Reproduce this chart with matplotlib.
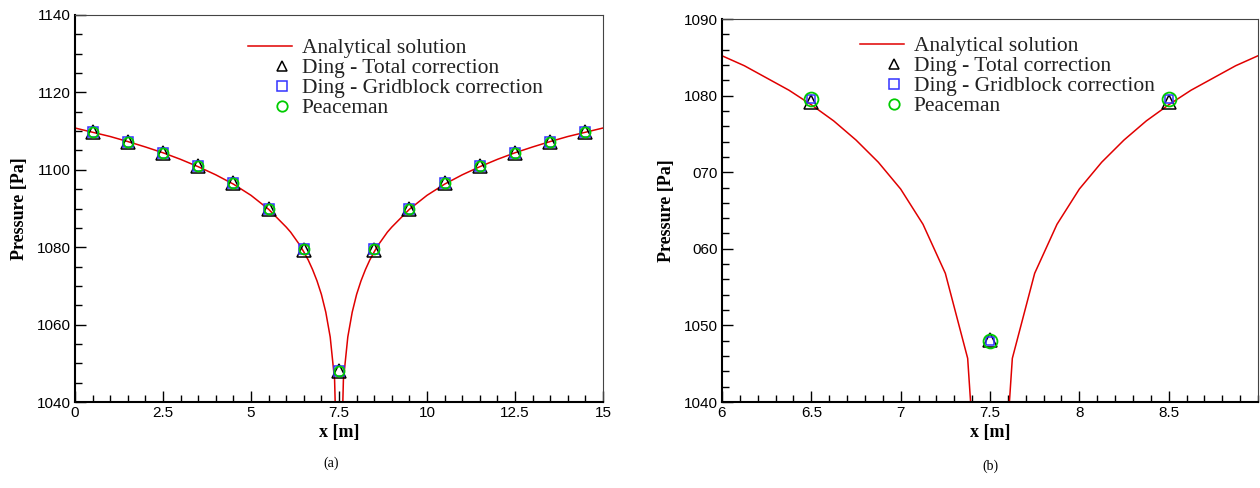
import matplotlib
matplotlib.use("Agg")
import matplotlib.pyplot as plt
from matplotlib.ticker import MultipleLocator, FixedLocator

# analytical solution (two branches either side of the well)
ana_x_left = [0, 0.5, 1, 1.5, 2, 2.5, 3, 3.5, 4, 4.5, 5, 5.5, 6, 6.125, 6.25, 6.375,
              6.5, 6.625, 6.75, 6.875, 7, 7.125, 7.25, 7.375, 7.42]
ana_p_left = [1110.8, 1109.7, 1108.6, 1107.3, 1105.9, 1104.4, 1102.7, 1100.8, 1098.7,
              1096.3, 1093.4, 1089.8, 1085.2, 1083.9, 1082.3, 1080.7, 1078.8, 1076.7,
              1074.2, 1071.3, 1067.8, 1063.2, 1056.8, 1045.7, 1030.0]
ana_x_right = [7.58, 7.625, 7.75, 7.875, 8, 8.125, 8.25, 8.375, 8.5, 8.625, 8.75, 8.875,
               9, 9.5, 10, 10.5, 11, 11.5, 12, 12.5, 13, 13.5, 14, 14.5, 15]
ana_p_right = [1030.0, 1045.7, 1056.8, 1063.2, 1067.8, 1071.3, 1074.2, 1076.7, 1078.8,
               1080.7, 1082.3, 1083.9, 1085.2, 1089.8, 1093.4, 1096.3, 1098.7, 1100.8,
               1102.7, 1104.4, 1105.9, 1107.3, 1108.6, 1109.7, 1110.8]

# gridblock centres and numerical results
cell_x = [0.5, 1.5, 2.5, 3.5, 4.5, 5.5, 6.5, 7.5, 8.5, 9.5, 10.5, 11.5, 12.5, 13.5, 14.5]
ding_total = [1109.7, 1107.2, 1104.3, 1100.9, 1096.5, 1089.8, 1079.2, 1048.1,
              1079.2, 1089.8, 1096.5, 1100.9, 1104.3, 1107.2, 1109.7]
ding_grid = [1109.8, 1107.3, 1104.4, 1101.0, 1096.7, 1090.0, 1079.6, 1048.0,
             1079.6, 1090.0, 1096.7, 1101.0, 1104.4, 1107.3, 1109.8]
peaceman = [1109.8, 1107.3, 1104.4, 1101.0, 1096.7, 1090.0, 1079.6, 1048.0,
            1079.6, 1090.0, 1096.7, 1101.0, 1104.4, 1107.3, 1109.8]

tick_font = "Liberation Sans"
serif = "Liberation Serif"

fig = plt.figure(figsize=(12.6, 4.88), dpi=100)
ax1 = fig.add_axes([75 / 1260, 86 / 488, 528 / 1260, 387 / 488])
ax2 = fig.add_axes([722 / 1260, 86 / 488, 536 / 1260, 383 / 488])


def draw(ax, ms_tri, ms_sq, ms_circ):
    ax.plot(ana_x_left, ana_p_left, color="#e00000", lw=1.1, label="Analytical solution")
    ax.plot(ana_x_right, ana_p_right, color="#e00000", lw=1.1)
    ax.plot(cell_x, ding_total, ls="none", marker="^", ms=ms_tri, mfc="none",
            mec="black", mew=1.1, label="Ding - Total correction")
    ax.plot(cell_x, ding_grid, ls="none", marker="s", ms=ms_sq, mfc="none",
            mec="#3333ff", mew=1.1, label="Ding - Gridblock correction")
    ax.plot(cell_x, peaceman, ls="none", marker="o", ms=ms_circ, mfc="none",
            mec="#00cc00", mew=1.3, label="Peaceman")

    for s in ["left", "bottom"]:
        ax.spines[s].set_linewidth(1.5)
        ax.spines[s].set_color("black")
    for s in ["top", "right"]:
        ax.spines[s].set_linewidth(0.8)
        ax.spines[s].set_color("#444444")
    ax.tick_params(which="both", direction="in", top=False, right=False, width=1.0,
                   labelsize=11, pad=3)
    ax.tick_params(which="major", length=8)
    ax.tick_params(which="minor", length=5)
    for lab in ax.get_xticklabels() + ax.get_yticklabels():
        lab.set_fontfamily(tick_font)
    ax.set_xlabel("x [m]", family=serif, weight="bold", fontsize=13, labelpad=3)
    ax.set_ylabel("Pressure [Pa]", family=serif, weight="bold", fontsize=13, labelpad=6)


# (a)
ax1.set_xlim(0, 15)
ax1.set_ylim(1040, 1140)
ax1.xaxis.set_major_locator(FixedLocator([0, 2.5, 5, 7.5, 10, 12.5, 15]))
ax1.set_xticklabels(["0", "2.5", "5", "7.5", "10", "12.5", "15"])
ax1.xaxis.set_minor_locator(MultipleLocator(0.5))
ax1.yaxis.set_major_locator(FixedLocator([1040, 1060, 1080, 1100, 1120, 1140]))
ax1.set_yticklabels(["1040", "1060", "1080", "1100", "1120", "1140"])
ax1.yaxis.set_minor_locator(MultipleLocator(5))
draw(ax1, 10, 7.5, 7.2)

# (b)
ax2.set_xlim(6, 9)
ax2.set_ylim(1040, 1090)
ax2.xaxis.set_major_locator(FixedLocator([6, 6.5, 7, 7.5, 8, 8.5]))
ax2.set_xticklabels(["6", "6.5", "7", "7.5", "8", "8.5"])
ax2.xaxis.set_minor_locator(MultipleLocator(0.1))
ax2.yaxis.set_major_locator(FixedLocator([1040, 1050, 1060, 1070, 1080, 1090]))
ax2.set_yticklabels(["1040", "1050", "060", "070", "1080", "1090"])
ax2.yaxis.set_minor_locator(MultipleLocator(2))
draw(ax2, 9.4, 5.8, 10)

for ax, anchor in [(ax1, (248, 51)), (ax2, (860, 49))]:
    x0 = anchor[0] / 1260
    y0 = 1 - (anchor[1] - 13) / 488
    leg = ax.legend(loc="upper left", bbox_to_anchor=(x0, y0), bbox_transform=fig.transFigure,
                    frameon=False, prop={"family": serif, "size": 15.5},
                    handlelength=2.05, handletextpad=0.45, labelspacing=0.0,
                    borderpad=0, borderaxespad=0)
    for t in leg.get_texts():
        t.set_color("#222222")
    # markers sit toward the right end of the handle, as in the original
    for h in leg.legend_handles[1:]:
        h.set_markersize(7.5)
        h.set_xdata([v * 1.55 for v in h.get_xdata()])

fig.text(331 / 1260, 1 - 463 / 488, "(a)", family=serif, fontsize=10, ha="center", va="center")
fig.text(990 / 1260, 1 - 466 / 488, "(b)", family=serif, fontsize=10, ha="center", va="center")

fig.savefig("out.png", dpi=100)
